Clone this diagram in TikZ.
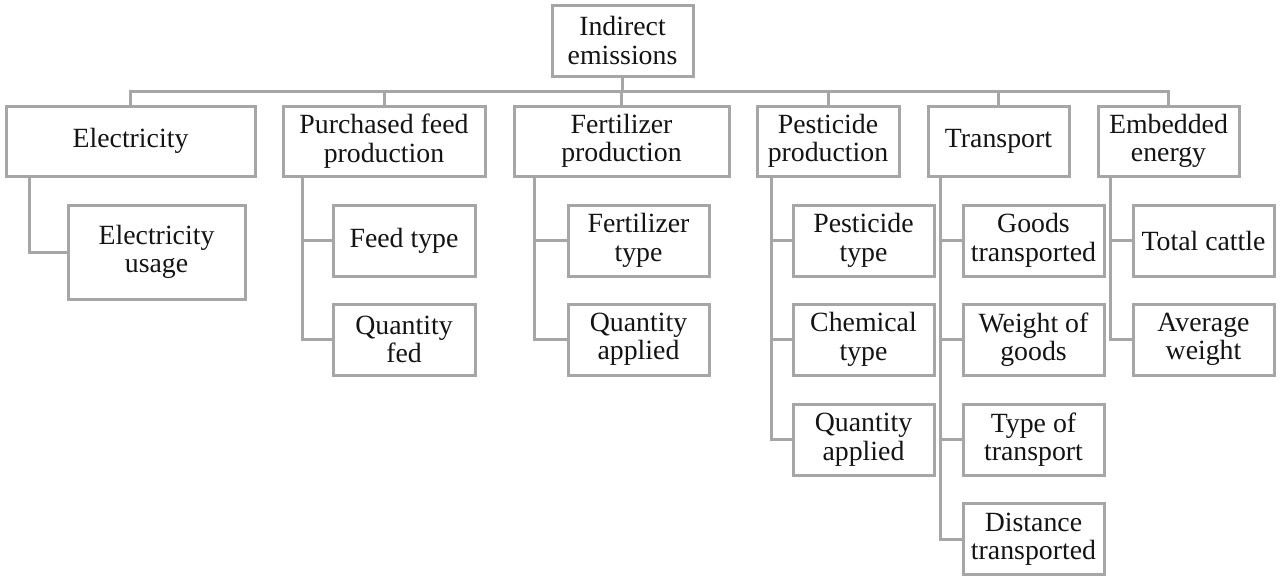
\documentclass[tikz,border=0pt]{standalone}
\usepackage{fontspec}
\setmainfont{Liberation Serif}
\definecolor{linegray}{RGB}{166,166,166}
\definecolor{txt}{RGB}{20,20,20}
\begin{document}
\begin{tikzpicture}[x=1pt,y=-1pt,
  box/.style={draw=linegray, line width=3pt, fill=white, rectangle, inner sep=0pt,
    align=center, text=txt, font=\fontsize{27.8}{28.5}\selectfont,
    minimum height=71pt},
  conn/.style={draw=linegray, line width=3pt}]
\useasboundingbox (0,0) rectangle (1280,581);
% root
\node[box, minimum width=141pt] (ind) at (622.5,40.5) {Indirect\\emissions};
% level 1
\node[box, minimum width=249pt, minimum height=70pt] (elec) at (130.5,141) {Electricity};
\node[box, minimum width=202pt, minimum height=70pt] (purch) at (384,141) {Purchased feed\\production};
\node[box, minimum width=215pt, minimum height=70pt] (fert) at (621.5,141) {Fertilizer\\production};
\node[box, minimum width=142pt, minimum height=70pt] (pest) at (828,141) {Pesticide\\production};
\node[box, minimum width=141pt, minimum height=70pt] (trans) at (998.5,141) {Transport};
\node[box, minimum width=141pt, minimum height=70pt] (emb) at (1168.5,141) {Embedded\\energy};
% children
\node[box, minimum width=177pt, minimum height=94pt] (elecuse) at (156.5,252) {Electricity\\usage};
\node[box, minimum width=142pt] (feedtype) at (404,240.5) {Feed type};
\node[box, minimum width=142pt] (qtyfed) at (404,339.5) {Quantity\\fed};
\node[box, minimum width=141pt] (ferttype) at (638.5,240.5) {Fertilizer\\type};
\node[box, minimum width=141pt] (fertqty) at (638.5,339.5) {Quantity\\applied};
\node[box, minimum width=141pt] (pesttype) at (863.5,240.5) {Pesticide\\type};
\node[box, minimum width=141pt] (chemtype) at (863.5,339.5) {Chemical\\type};
\node[box, minimum width=141pt] (pestqty) at (863.5,439.5) {Quantity\\applied};
\node[box, minimum width=141pt] (goods) at (1033.5,240.5) {Goods\\transported};
\node[box, minimum width=141pt] (weight) at (1033.5,339.5) {Weight of\\goods};
\node[box, minimum width=141pt] (ttype) at (1033.5,439.5) {Type of\\transport};
\node[box, minimum width=141pt] (dist) at (1033.5,539) {Distance\\transported};
\node[box, minimum width=141pt] (total) at (1203.5,240.5) {Total cattle};
\node[box, minimum width=141pt] (avgw) at (1203.5,339.5) {Average\\weight};
% bus
\coordinate (bus) at (622.5,91);
\draw[conn] (ind.south) -- (bus);
\draw[conn] (elec.north) -- (elec.north |- bus) -- (emb.north |- bus) -- (emb.north);
\foreach \n in {purch,fert,pest,trans}
  \draw[conn] (\n.north) -- (\n.north |- bus);
% branches
\draw[conn] ([xshift=25pt]elec.south west) |- (elecuse.west);
\draw[conn] ([xshift=21pt]purch.south west) |- (feedtype.west);
\draw[conn] ([xshift=21pt]purch.south west) |- (qtyfed.west);
\draw[conn] ([xshift=22pt]fert.south west) |- (ferttype.west);
\draw[conn] ([xshift=22pt]fert.south west) |- (fertqty.west);
\draw[conn] ([xshift=15.5pt]pest.south west) |- (pesttype.west);
\draw[conn] ([xshift=15.5pt]pest.south west) |- (chemtype.west);
\draw[conn] ([xshift=15.5pt]pest.south west) |- (pestqty.west);
\draw[conn] ([xshift=14pt]trans.south west) |- (goods.west);
\draw[conn] ([xshift=14pt]trans.south west) |- (weight.west);
\draw[conn] ([xshift=14pt]trans.south west) |- (ttype.west);
\draw[conn] ([xshift=14pt]trans.south west) |- (dist.west);
\draw[conn] ([xshift=14pt]emb.south west) |- (total.west);
\draw[conn] ([xshift=14pt]emb.south west) |- (avgw.west);
\end{tikzpicture}
\end{document}
